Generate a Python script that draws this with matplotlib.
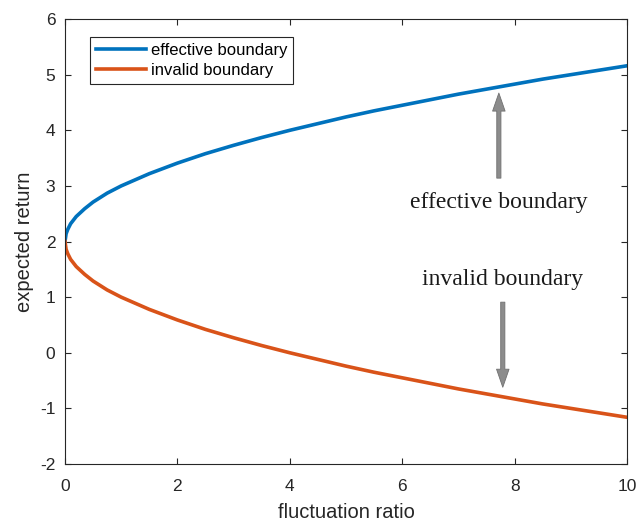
import matplotlib.pyplot as plt
import numpy as np

# fluctuation ratio / expected return of the two boundaries
ratio = [0, 0.02, 0.05, 0.1, 0.2, 0.35, 0.5, 0.75, 1.0, 1.5, 2.0, 2.5, 3.0, 3.5,
         4.0, 4.5, 5.0, 5.5, 6.0, 6.5, 7.0, 7.5, 8.0, 8.5, 9.0, 9.5, 10.0]
effective = [2.0, 2.14, 2.22, 2.32, 2.45, 2.59, 2.71, 2.87, 3.0, 3.22, 3.41,
             3.58, 3.73, 3.87, 4.0, 4.12, 4.24, 4.35, 4.45, 4.55, 4.65, 4.74,
             4.83, 4.92, 5.0, 5.08, 5.16]
invalid = [2.0, 1.86, 1.78, 1.68, 1.55, 1.41, 1.29, 1.13, 1.0, 0.78, 0.59,
           0.42, 0.27, 0.13, 0.0, -0.12, -0.24, -0.35, -0.45, -0.55, -0.65,
           -0.74, -0.83, -0.92, -1.0, -1.08, -1.16]

plt.rcParams['font.family'] = ['Liberation Sans', 'DejaVu Sans']
plt.rcParams['axes.unicode_minus'] = False

fig = plt.figure(figsize=(6.39, 5.21), dpi=100)
ax = fig.add_axes([0.1017, 0.1094, 0.8795, 0.854])

ax.plot(ratio, effective, color='#0072BD', lw=2.6, label='effective boundary')
ax.plot(ratio, invalid, color='#D95319', lw=2.6, label='invalid boundary')

ax.set_xlim(0, 10)
ax.set_ylim(-2, 6)
ax.set_xticks(np.arange(0, 11, 2))
ax.set_yticks(np.arange(-2, 7, 1))
ax.tick_params(direction='in', length=4, labelsize=12.5, colors='#262626',
               top=True, right=True)
ax.tick_params(axis='x', pad=11)
ax.tick_params(axis='y', pad=7)
for s in ax.spines.values():
    s.set_color('#262626')
    s.set_linewidth(0.8)

ax.set_xlabel('fluctuation ratio', fontsize=14.5, color='#262626', labelpad=6)
ax.set_ylabel('expected return', fontsize=14.5, color='#262626', labelpad=4)

leg = ax.legend(loc='upper left', bbox_to_anchor=(0.044, 0.96), fontsize=12,
                handlelength=3.0, handletextpad=0.3, borderpad=0.35,
                labelspacing=0.3, borderaxespad=0, fancybox=False, framealpha=1)
leg.get_frame().set_edgecolor('#262626')
leg.get_frame().set_linewidth(0.8)

# arrows pointing at each boundary
arrow = dict(facecolor='#8c8c8c', edgecolor='#707070', width=3,
             headwidth=9, headlength=13, shrink=0, lw=0.6)
ax.annotate('', xy=(7.72, 4.67), xytext=(7.72, 3.14), arrowprops=arrow)
ax.annotate('', xy=(7.79, -0.62), xytext=(7.79, 0.91), arrowprops=arrow)

serif = ['Liberation Serif', 'DejaVu Serif']
ax.text(7.72, 2.71, 'effective boundary', family=serif, fontsize=17,
        ha='center', va='center', color='#1a1a1a')
ax.text(7.79, 1.31, 'invalid boundary', family=serif, fontsize=17,
        ha='center', va='center', color='#1a1a1a')

fig.savefig('out.png', dpi=100)
